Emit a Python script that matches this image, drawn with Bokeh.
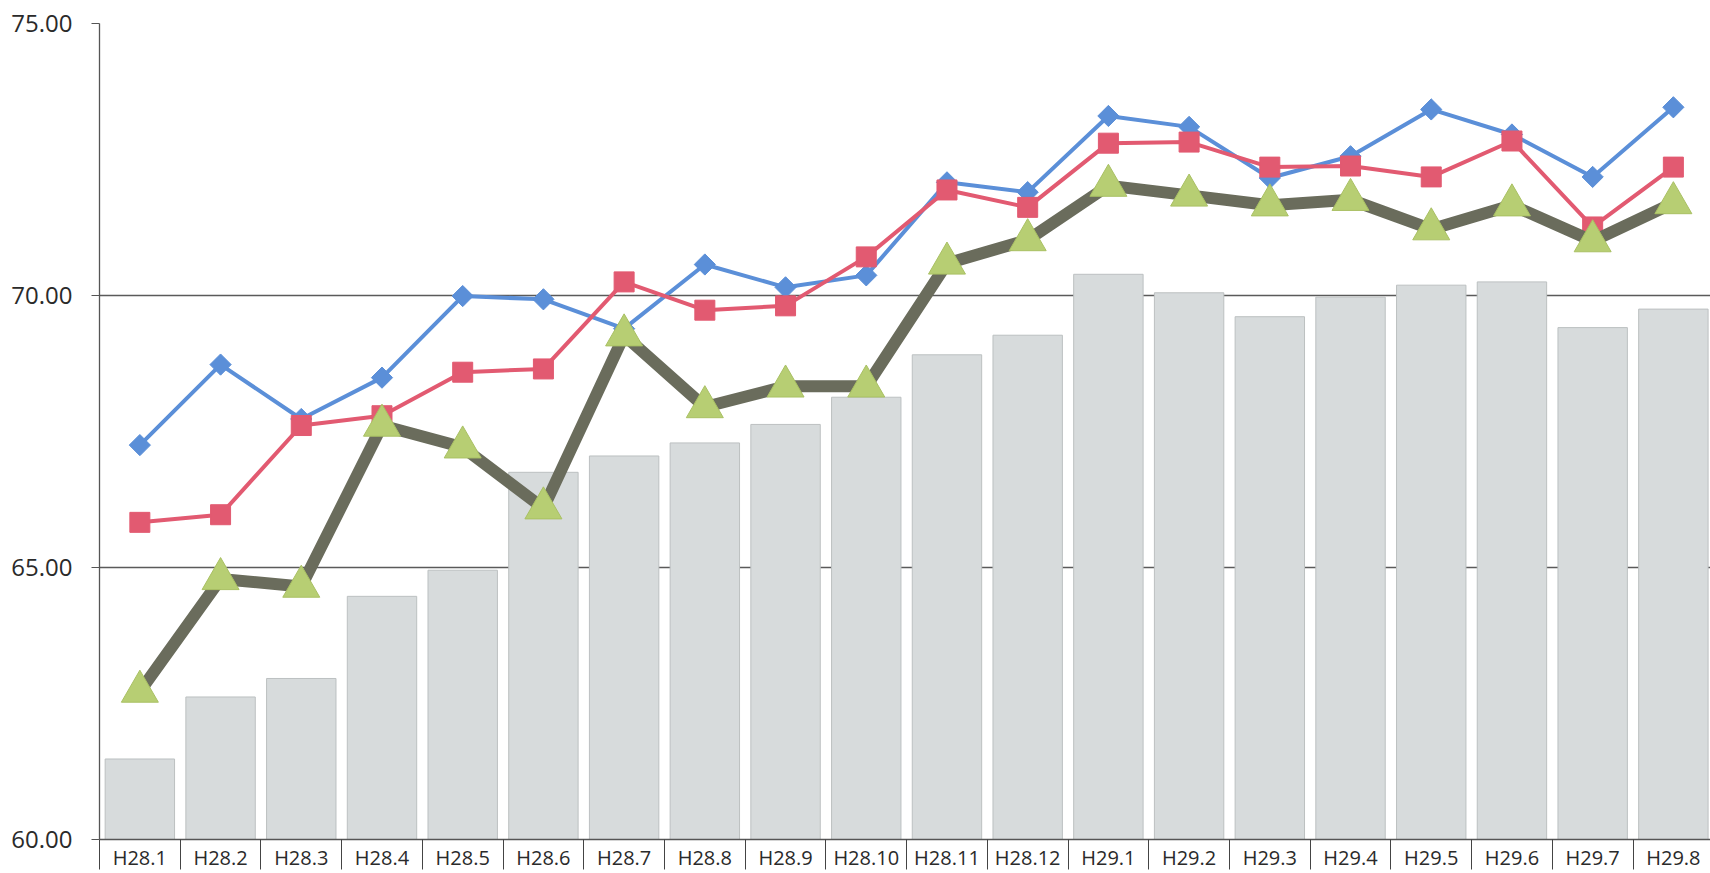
import numpy as np
from bokeh.plotting import figure
from bokeh.models import FixedTicker, NumeralTickFormatter, Range1d, ColumnDataSource
from bokeh.embed import file_html
from bokeh.resources import INLINE

months = ["H28.1", "H28.2", "H28.3", "H28.4", "H28.5", "H28.6", "H28.7", "H28.8",
          "H28.9", "H28.10", "H28.11", "H28.12", "H29.1", "H29.2", "H29.3", "H29.4",
          "H29.5", "H29.6", "H29.7", "H29.8"]
bar_values = [61.48, 62.62, 62.96, 64.47, 64.95, 66.75, 67.05, 67.29, 67.63, 68.13,
              68.91, 69.27, 70.39, 70.05, 69.61, 69.97, 70.19, 70.25, 69.41, 69.75]
blue_values = [67.25, 68.73, 67.73, 68.49, 69.99, 69.93, 69.39, 70.57, 70.15, 70.37,
               72.08, 71.90, 73.30, 73.10, 72.16, 72.56, 73.42, 72.96, 72.18, 73.46]
red_values = [65.83, 65.97, 67.61, 67.79, 68.59, 68.65, 70.25, 69.73, 69.81, 70.71,
              71.94, 71.62, 72.80, 72.82, 72.36, 72.38, 72.18, 72.84, 71.26, 72.36]
green_values = [62.72, 64.79, 64.65, 67.61, 67.21, 66.09, 69.27, 67.95, 68.33, 68.33,
                70.59, 71.02, 72.02, 71.84, 71.66, 71.76, 71.22, 71.66, 71.00, 71.70]
y_ticks = [60, 65, 70, 75]

x = [i + 0.5 for i in range(len(months))]
src = ColumnDataSource(dict(x=x, bar=bar_values, blue=blue_values, red=red_values,
                            green=green_values))

p = figure(width=1710, height=873, output_backend="svg", toolbar_location=None,
           x_range=Range1d(0, 19.96), y_range=Range1d(60, 75),
           min_border_left=99, min_border_right=0, min_border_top=23, min_border_bottom=30,
           background_fill_color="white", border_fill_color="white")
p.outline_line_color = None
p.xgrid.visible = False
p.ygrid.ticker = FixedTicker(ticks=y_ticks[1:])
p.ygrid.grid_line_color = "#5a5a5a"
p.ygrid.grid_line_width = 1.3

p.vbar(x="x", top="bar", bottom=60, width=0.86, source=src,
       fill_color="#d7dbdc", line_color="#bcc0c1", line_width=1)

p.line("x", "blue", source=src, line_color="#5b8fd8", line_width=4, line_join="round")
p.scatter("x", "blue", source=src, marker="square", angle=np.pi / 4, size=15,
          fill_color="#5b8fd8", line_color="#5b8fd8")

p.line("x", "red", source=src, line_color="#e25a71", line_width=4, line_join="round")
p.scatter("x", "red", source=src, marker="square", size=20,
          fill_color="#e25a71", line_color="#e25a71")

p.line("x", "green", source=src, line_color="#6a6c5c", line_width=12, line_join="round")
p.scatter("x", "green", source=src, marker="triangle", size=37,
          fill_color="#b7ce73", line_color="#a9c063", line_width=1)

# x axis
p.xaxis.ticker = FixedTicker(ticks=x, minor_ticks=list(range(0, len(months) + 1)))
p.xaxis.major_label_overrides = {xi: m for xi, m in zip(x, months)}
p.xaxis.major_tick_line_color = None
p.xaxis.major_tick_out = 0
p.xaxis.minor_tick_out = 30
p.xaxis.minor_tick_in = 0
p.xaxis.minor_tick_line_color = "#444444"
p.xaxis.axis_line_color = "#555555"
p.xaxis.axis_line_width = 1.3
p.xaxis.major_label_text_font = "Open Sans"
p.xaxis.major_label_text_font_size = "20px"
p.xaxis.major_label_text_color = "#2a2a2a"
p.xaxis.major_label_standoff = -26

# y axis
p.yaxis.ticker = FixedTicker(ticks=y_ticks)
p.yaxis.formatter = NumeralTickFormatter(format="0.00")
p.yaxis.major_tick_out = 8
p.yaxis.major_tick_in = 0
p.yaxis.minor_tick_line_color = None
p.yaxis.major_tick_line_color = "#555555"
p.yaxis.axis_line_color = "#555555"
p.yaxis.axis_line_width = 1.3
p.yaxis.major_label_standoff = 19
p.yaxis.major_label_text_font = "Open Sans"
p.yaxis.major_label_text_font_size = "24px"
p.yaxis.major_label_text_color = "#2a2a2a"

open("out.html", "w").write(file_html(p, INLINE))
